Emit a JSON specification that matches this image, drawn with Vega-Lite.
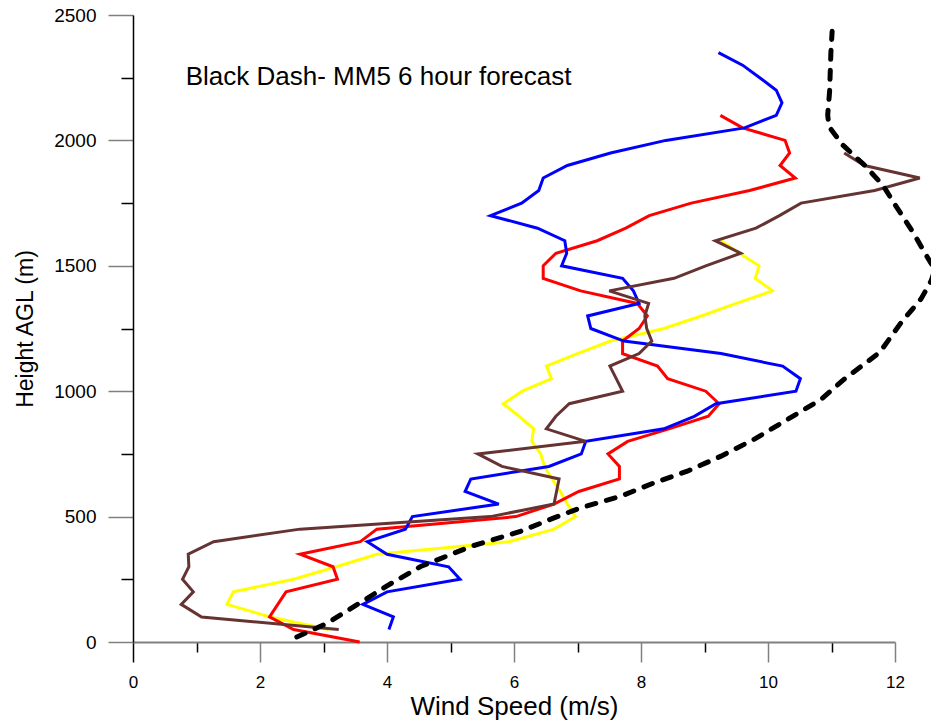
{
  "$schema": "https://vega.github.io/schema/vega-lite/v6.json",
  "width": 762,
  "height": 627,
  "autosize": "none",
  "padding": {"left": 133, "top": 15, "right": 36, "bottom": 83},
  "background": "white",
  "config": {"view": {"stroke": null}, "font": "Liberation Sans"},
  "datasets": {
    "obs": [
      {"s": "yellow", "h": 50, "ws": 3.08}, {"s": "yellow", "h": 100, "ws": 2.16}, {"s": "yellow", "h": 150, "ws": 1.48}, {"s": "yellow", "h": 200, "ws": 1.58},
      {"s": "yellow", "h": 250, "ws": 2.53}, {"s": "yellow", "h": 300, "ws": 3.2}, {"s": "yellow", "h": 350, "ws": 3.84}, {"s": "yellow", "h": 400, "ws": 5.92},
      {"s": "yellow", "h": 450, "ws": 6.63}, {"s": "yellow", "h": 500, "ws": 6.97}, {"s": "yellow", "h": 550, "ws": 6.84}, {"s": "yellow", "h": 600, "ws": 6.73},
      {"s": "yellow", "h": 650, "ws": 6.6}, {"s": "yellow", "h": 700, "ws": 6.48}, {"s": "yellow", "h": 750, "ws": 6.42}, {"s": "yellow", "h": 800, "ws": 6.28},
      {"s": "yellow", "h": 850, "ws": 6.31}, {"s": "yellow", "h": 900, "ws": 6.08}, {"s": "yellow", "h": 950, "ws": 5.83}, {"s": "yellow", "h": 1000, "ws": 6.13},
      {"s": "yellow", "h": 1050, "ws": 6.59}, {"s": "yellow", "h": 1100, "ws": 6.51}, {"s": "yellow", "h": 1150, "ws": 7.0}, {"s": "yellow", "h": 1200, "ws": 7.52},
      {"s": "yellow", "h": 1250, "ws": 8.36}, {"s": "yellow", "h": 1300, "ws": 8.95}, {"s": "yellow", "h": 1350, "ws": 9.5}, {"s": "yellow", "h": 1400, "ws": 10.07},
      {"s": "yellow", "h": 1450, "ws": 9.8}, {"s": "yellow", "h": 1500, "ws": 9.86}, {"s": "yellow", "h": 1550, "ws": 9.55}, {"s": "yellow", "h": 1600, "ws": 9.26},

      {"s": "red", "h": 0, "ws": 3.57}, {"s": "red", "h": 50, "ws": 2.53}, {"s": "red", "h": 100, "ws": 2.15}, {"s": "red", "h": 150, "ws": 2.28},
      {"s": "red", "h": 200, "ws": 2.41}, {"s": "red", "h": 250, "ws": 3.22}, {"s": "red", "h": 300, "ws": 3.15}, {"s": "red", "h": 350, "ws": 2.63},
      {"s": "red", "h": 400, "ws": 3.58}, {"s": "red", "h": 450, "ws": 3.84}, {"s": "red", "h": 500, "ws": 6.03}, {"s": "red", "h": 550, "ws": 6.63},
      {"s": "red", "h": 600, "ws": 7.02}, {"s": "red", "h": 650, "ws": 7.66}, {"s": "red", "h": 700, "ws": 7.66}, {"s": "red", "h": 750, "ws": 7.48},
      {"s": "red", "h": 800, "ws": 7.79}, {"s": "red", "h": 850, "ws": 8.44}, {"s": "red", "h": 900, "ws": 9.06}, {"s": "red", "h": 950, "ws": 9.23},
      {"s": "red", "h": 1000, "ws": 9.02}, {"s": "red", "h": 1050, "ws": 8.42}, {"s": "red", "h": 1100, "ws": 8.26}, {"s": "red", "h": 1150, "ws": 7.71},
      {"s": "red", "h": 1200, "ws": 7.71}, {"s": "red", "h": 1250, "ws": 7.97}, {"s": "red", "h": 1300, "ws": 8.1}, {"s": "red", "h": 1350, "ws": 7.94},
      {"s": "red", "h": 1400, "ws": 7.05}, {"s": "red", "h": 1450, "ws": 6.46}, {"s": "red", "h": 1500, "ws": 6.46}, {"s": "red", "h": 1550, "ws": 6.66},
      {"s": "red", "h": 1600, "ws": 7.31}, {"s": "red", "h": 1650, "ws": 7.76}, {"s": "red", "h": 1700, "ws": 8.13}, {"s": "red", "h": 1750, "ws": 8.79},
      {"s": "red", "h": 1800, "ws": 9.71}, {"s": "red", "h": 1850, "ws": 10.43}, {"s": "red", "h": 1900, "ws": 10.19}, {"s": "red", "h": 1950, "ws": 10.34},
      {"s": "red", "h": 2000, "ws": 10.27}, {"s": "red", "h": 2050, "ws": 9.6}, {"s": "red", "h": 2100, "ws": 9.25},

      {"s": "blue", "h": 50, "ws": 4.03}, {"s": "blue", "h": 100, "ws": 4.1}, {"s": "blue", "h": 150, "ws": 3.62}, {"s": "blue", "h": 200, "ws": 4.0},
      {"s": "blue", "h": 250, "ws": 5.15}, {"s": "blue", "h": 300, "ws": 4.97}, {"s": "blue", "h": 350, "ws": 4.0}, {"s": "blue", "h": 400, "ws": 3.69},
      {"s": "blue", "h": 450, "ws": 4.29}, {"s": "blue", "h": 500, "ws": 4.4}, {"s": "blue", "h": 550, "ws": 5.76}, {"s": "blue", "h": 600, "ws": 5.23},
      {"s": "blue", "h": 650, "ws": 5.32}, {"s": "blue", "h": 700, "ws": 6.55}, {"s": "blue", "h": 750, "ws": 7.06}, {"s": "blue", "h": 800, "ws": 7.13},
      {"s": "blue", "h": 850, "ws": 8.36}, {"s": "blue", "h": 900, "ws": 8.84}, {"s": "blue", "h": 950, "ws": 9.18}, {"s": "blue", "h": 1000, "ws": 10.44},
      {"s": "blue", "h": 1050, "ws": 10.51}, {"s": "blue", "h": 1100, "ws": 10.23}, {"s": "blue", "h": 1150, "ws": 9.26}, {"s": "blue", "h": 1200, "ws": 7.73},
      {"s": "blue", "h": 1250, "ws": 7.21}, {"s": "blue", "h": 1300, "ws": 7.16}, {"s": "blue", "h": 1350, "ws": 7.97}, {"s": "blue", "h": 1400, "ws": 7.88},
      {"s": "blue", "h": 1450, "ws": 7.71}, {"s": "blue", "h": 1500, "ws": 6.75}, {"s": "blue", "h": 1550, "ws": 6.83}, {"s": "blue", "h": 1600, "ws": 6.8},
      {"s": "blue", "h": 1650, "ws": 6.37}, {"s": "blue", "h": 1700, "ws": 5.63}, {"s": "blue", "h": 1750, "ws": 6.12}, {"s": "blue", "h": 1800, "ws": 6.39},
      {"s": "blue", "h": 1850, "ws": 6.46}, {"s": "blue", "h": 1900, "ws": 6.84}, {"s": "blue", "h": 1950, "ws": 7.52}, {"s": "blue", "h": 2000, "ws": 8.39},
      {"s": "blue", "h": 2050, "ws": 9.63}, {"s": "blue", "h": 2100, "ws": 10.13}, {"s": "blue", "h": 2150, "ws": 10.22}, {"s": "blue", "h": 2200, "ws": 10.13},
      {"s": "blue", "h": 2250, "ws": 9.87}, {"s": "blue", "h": 2300, "ws": 9.6}, {"s": "blue", "h": 2350, "ws": 9.22},

      {"s": "brown", "h": 50, "ws": 3.24}, {"s": "brown", "h": 100, "ws": 1.08}, {"s": "brown", "h": 150, "ws": 0.76}, {"s": "brown", "h": 200, "ws": 0.95},
      {"s": "brown", "h": 250, "ws": 0.78}, {"s": "brown", "h": 300, "ws": 0.88}, {"s": "brown", "h": 350, "ws": 0.87}, {"s": "brown", "h": 400, "ws": 1.27},
      {"s": "brown", "h": 450, "ws": 2.63}, {"s": "brown", "h": 500, "ws": 5.63}, {"s": "brown", "h": 550, "ws": 6.63}, {"s": "brown", "h": 600, "ws": 6.67},
      {"s": "brown", "h": 650, "ws": 6.71}, {"s": "brown", "h": 700, "ws": 5.81}, {"s": "brown", "h": 750, "ws": 5.43}, {"s": "brown", "h": 800, "ws": 7.13},
      {"s": "brown", "h": 850, "ws": 6.51}, {"s": "brown", "h": 900, "ws": 6.66}, {"s": "brown", "h": 950, "ws": 6.87}, {"s": "brown", "h": 1000, "ws": 7.71},
      {"s": "brown", "h": 1050, "ws": 7.61}, {"s": "brown", "h": 1100, "ws": 7.51}, {"s": "brown", "h": 1150, "ws": 7.97}, {"s": "brown", "h": 1200, "ws": 8.17},
      {"s": "brown", "h": 1250, "ws": 8.09}, {"s": "brown", "h": 1300, "ws": 8.06}, {"s": "brown", "h": 1350, "ws": 8.12}, {"s": "brown", "h": 1400, "ws": 7.5},
      {"s": "brown", "h": 1450, "ws": 8.52}, {"s": "brown", "h": 1500, "ws": 9.02}, {"s": "brown", "h": 1550, "ws": 9.57}, {"s": "brown", "h": 1600, "ws": 9.17},
      {"s": "brown", "h": 1650, "ws": 9.81}, {"s": "brown", "h": 1700, "ws": 10.18}, {"s": "brown", "h": 1750, "ws": 10.52}, {"s": "brown", "h": 1800, "ws": 11.68},
      {"s": "brown", "h": 1850, "ws": 12.39}, {"s": "brown", "h": 1900, "ws": 11.52}, {"s": "brown", "h": 1950, "ws": 11.2}
    ],
    "mm5": [
      {"h": 20, "ws": 2.58}, {"h": 75, "ws": 3.06}, {"h": 157, "ws": 3.58}, {"h": 224, "ws": 4.0}, {"h": 301, "ws": 4.53},
      {"h": 381, "ws": 5.32}, {"h": 441, "ws": 6.1}, {"h": 495, "ws": 6.63}, {"h": 535, "ws": 7.05}, {"h": 581, "ws": 7.68},
      {"h": 635, "ws": 8.21}, {"h": 681, "ws": 8.73}, {"h": 741, "ws": 9.26}, {"h": 808, "ws": 9.78}, {"h": 888, "ws": 10.31},
      {"h": 968, "ws": 10.84}, {"h": 1048, "ws": 11.2}, {"h": 1155, "ws": 11.76}, {"h": 1275, "ws": 12.1}, {"h": 1368, "ws": 12.41},
      {"h": 1440, "ws": 12.57}, {"h": 1485, "ws": 12.63}, {"h": 1530, "ws": 12.52}, {"h": 1635, "ws": 12.28}, {"h": 1748, "ws": 11.99},
      {"h": 1821, "ws": 11.81}, {"h": 1901, "ws": 11.52}, {"h": 1981, "ws": 11.18}, {"h": 2055, "ws": 10.96}, {"h": 2101, "ws": 10.94},
      {"h": 2195, "ws": 10.97}, {"h": 2348, "ws": 10.99}, {"h": 2435, "ws": 11.01}
    ],
    "note": [{"t": "Black Dash- MM5 6 hour forecast", "ws": 0.83, "h": 2252}]
  },
  "encoding": {
    "x": {
      "field": "ws", "type": "quantitative",
      "scale": {"domain": [0, 12], "nice": false, "zero": false},
      "axis": {
        "values": [0, 1, 2, 3, 4, 5, 6, 7, 8, 9, 10, 11, 12],
        "format": "d",
        "labelExpr": "datum.value % 2 === 0 ? datum.label : ''",
        "tickSize": {"condition": {"test": "datum.value % 2 === 0", "value": 20}, "value": 10},
        "tickColor": {"condition": {"test": "datum.value % 2 === 0 && datum.value > 0", "value": "#808080"}, "value": "black"},
        "tickWidth": 1.5,
        "domainColor": "#808080",
        "domainWidth": 2,
        "grid": false,
        "labelFontSize": 17,
        "labelColor": "black",
        "labelPadding": 12,
        "labelFlush": false,
        "title": "Wind Speed (m/s)",
        "titleFontSize": 26,
        "titleFontWeight": "normal",
        "titleColor": "black",
        "titlePadding": 3
      }
    },
    "y": {
      "field": "h", "type": "quantitative",
      "scale": {"domain": [0, 2500], "nice": false},
      "axis": {
        "values": [0, 250, 500, 750, 1000, 1250, 1500, 1750, 2000, 2250, 2500],
        "format": "d",
        "labelExpr": "datum.value % 500 === 0 ? datum.label : ''",
        "tickSize": {"condition": {"test": "datum.value % 500 === 0", "value": 25}, "value": 12},
        "tickColor": {"condition": {"test": "datum.value % 500 === 0", "value": "#808080"}, "value": "black"},
        "tickWidth": 1.5,
        "domainColor": "black",
        "domainWidth": 1.5,
        "grid": false,
        "labelFontSize": 19,
        "labelColor": "black",
        "labelPadding": 12,
        "labelFlush": false,
        "title": "Height AGL (m)",
        "titleFontSize": 23,
        "titleFontWeight": "normal",
        "titleColor": "black",
        "titlePadding": 16
      }
    }
  },
  "layer": [
    {
      "data": {"name": "obs"},
      "mark": {"type": "line", "strokeWidth": 3, "clip": false},
      "encoding": {
        "color": {
          "field": "s", "type": "nominal",
          "scale": {"domain": ["yellow", "red", "blue", "brown"], "range": ["#FFFF00", "#FF0000", "#0000FF", "#663333"]},
          "legend": null
        },
        "order": {"field": "h", "type": "quantitative"}
      }
    },
    {
      "data": {"name": "mm5"},
      "mark": {"type": "line", "color": "black", "strokeWidth": 5, "strokeDash": [9, 11], "strokeCap": "round", "clip": false},
      "encoding": {"order": {"field": "h", "type": "quantitative"}}
    },
    {
      "data": {"name": "note"},
      "mark": {"type": "text", "align": "left", "baseline": "middle", "fontSize": 26, "color": "black"},
      "encoding": {"text": {"field": "t"}}
    }
  ]
}
